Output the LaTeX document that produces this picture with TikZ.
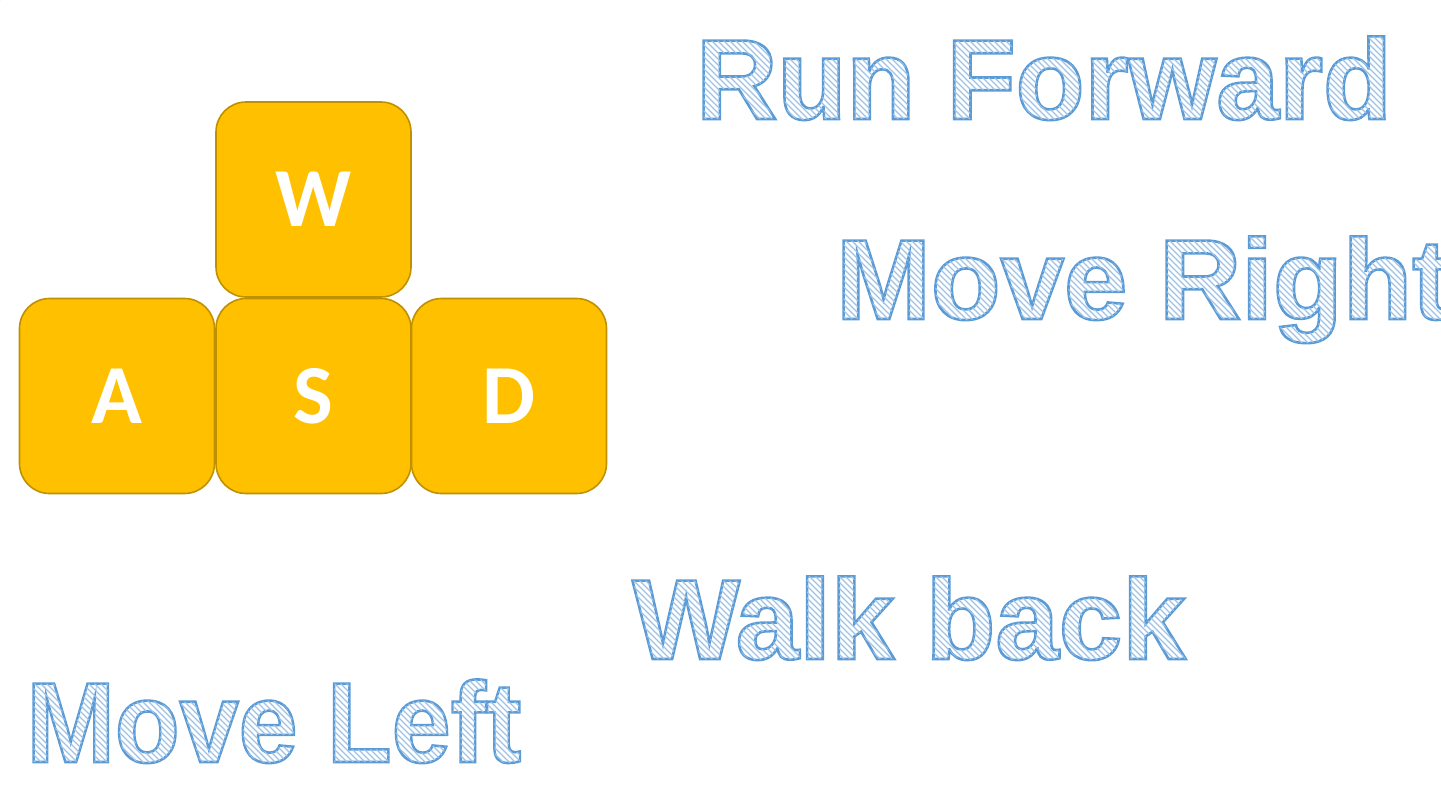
\documentclass[tikz,border=0pt]{standalone}
\usepackage{fontspec}
\usetikzlibrary{patterns}
\setmainfont{Liberation Sans}
\newfontfamily\keyfont{Carlito}
\definecolor{keyfill}{RGB}{255,192,0}
\definecolor{keyedge}{RGB}{191,144,0}
\definecolor{txtfill}{RGB}{214,228,243}
\definecolor{hatchcol}{RGB}{157,195,230}
\pgfdeclarepatternformonly{hatch}{\pgfqpoint{-1pt}{-1pt}}{\pgfqpoint{7pt}{7pt}}{\pgfqpoint{6pt}{6pt}}%
{%
  \pgfsetlinewidth{1.1pt}%
  \pgfpathmoveto{\pgfqpoint{-0.1pt}{6.1pt}}%
  \pgfpathlineto{\pgfqpoint{6.1pt}{-0.1pt}}%
  \pgfusepath{stroke}%
}
\newcommand{\outlined}[1]{\pgfsetfillpattern{hatch}{hatchcol}\special{pdf:literal direct 0.357 0.608 0.835 RG 2.6 w 2 Tr}#1\special{pdf:literal direct 0 Tr}}
\tikzset{
  keybox/.style={draw=keyedge, line width=1.6pt, fill=keyfill, rounded corners=30pt,
    minimum width=195pt, minimum height=195pt, inner sep=0pt,
    text=white, font=\keyfont\bfseries\fontsize{84}{84}\selectfont},
  bigtext/.style={inner sep=0pt, outer sep=0pt, text=txtfill,
    font=\bfseries\fontsize{114}{114}\selectfont}
}
\begin{document}
\begin{tikzpicture}[x=1pt,y=-1pt]
\useasboundingbox (0,0) rectangle (1441,793);
\path[pattern=hatch, pattern color=hatchcol] (0,0) rectangle (0.01,0.01);
\node[keybox] (A) at (117,396) {A};
\node[keybox] (S) at (313.5,396) {S};
\node[keybox] (D) at (509,396) {D};
\node[keybox] (W) at (313.5,199.5) {W};
\node[bigtext, anchor=base] (run) at (1044,119) {\scalebox{0.99}[1]{\outlined{Run Forward}}};
\node[bigtext, anchor=base west] (right) at (836,319) {\outlined{Move Right}};
\node[bigtext, anchor=base] (back) at (909,659) {\outlined{Walk back}};
\node[bigtext, anchor=base] (left) at (274,762) {\scalebox{0.93}[1]{\outlined{Move Left}}};
\end{tikzpicture}
\end{document}
